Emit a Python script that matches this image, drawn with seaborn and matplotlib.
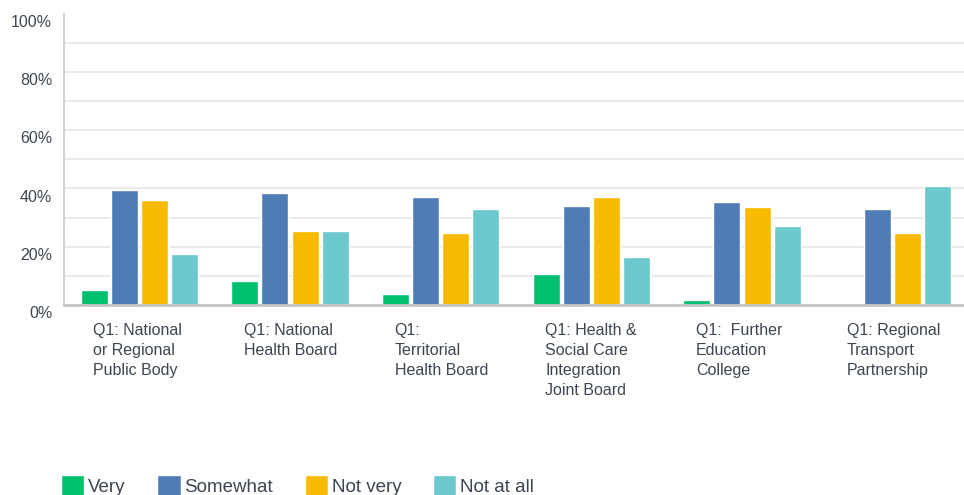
import matplotlib
matplotlib.use("Agg")
import matplotlib.pyplot as plt
import matplotlib.transforms as mtransforms
from matplotlib.ticker import FixedLocator, FuncFormatter
import numpy as np
import pandas as pd
import seaborn as sns

# Survey responses (% of respondents) per organisation type
categories = [
    "Q1: National\nor Regional\nPublic Body",
    "Q1: National\nHealth Board",
    "Q1:\nTerritorial\nHealth Board",
    "Q1: Health &\nSocial Care\nIntegration\nJoint Board",
    "Q1:  Further\nEducation\nCollege",
    "Q1: Regional\nTransport\nPartnership",
]
responses = ["Very", "Somewhat", "Not very", "Not at all"]
very = [5.0, 8.2, 3.7, 10.6, 1.6, 0.0]
somewhat = [39.5, 38.4, 37.1, 34.0, 35.3, 32.9]
not_very = [36.0, 25.5, 24.7, 37.1, 33.6, 24.7]
not_at_all = [17.5, 25.5, 32.9, 16.4, 27.1, 40.9]
colors = ["#00BF6F", "#507CB6", "#F7BA00", "#6BC8CD"]
y_ticks = [0, 20, 40, 60, 80, 100]

series = [very, somewhat, not_very, not_at_all]
df = pd.DataFrame(
    [(c, r, v) for r, vals in zip(responses, series) for c, v in zip(categories, vals)],
    columns=["category", "response", "value"],
)

sns.set_theme(style="white")
plt.rcParams["font.family"] = ["Liberation Sans", "DejaVu Sans"]
text_color = "#3d4650"

fig = plt.figure(figsize=(9.64, 4.95), dpi=100)
ax = fig.add_axes([64 / 964, (495 - 304.7) / 495, 904 / 964, 290.5 / 495])

sns.barplot(
    data=df, x="category", y="value", hue="response",
    hue_order=responses, order=categories, palette=colors,
    width=0.8, gap=0.1, saturation=1, ax=ax, legend=True,
)

ax.set_ylim(0, 100)
ax.set_xlim(-0.5, len(categories) - 0.5)
ax.set_xlabel("")
ax.set_ylabel("")

# gridlines every 10% (except the top), labels every 20%
ax.yaxis.set_major_locator(FixedLocator(y_ticks))
ax.yaxis.set_major_formatter(FuncFormatter(lambda v, p: f"{v:.0f}%"))
for g in range(10, 100, 10):
    ax.axhline(g, color="#e6e6e6", lw=1.2, zorder=0)
ax.set_axisbelow(True)

for side in ["top", "right"]:
    ax.spines[side].set_visible(False)
ax.spines["left"].set_color("#d4d4d4")
ax.spines["left"].set_linewidth(1.5)
ax.spines["bottom"].set_color("#c4c4c4")
ax.spines["bottom"].set_linewidth(2)

ax.tick_params(axis="both", length=0, colors=text_color, labelsize=11.5)
ax.tick_params(axis="y", pad=8.5)
ax.tick_params(axis="x", pad=13)

ydown = mtransforms.ScaledTranslation(0, -0.07, fig.dpi_scale_trans)
for lab in ax.get_yticklabels():
    lab.set_transform(lab.get_transform() + ydown)

xshift = mtransforms.ScaledTranslation(-0.46, 0, fig.dpi_scale_trans)
for lab in ax.get_xticklabels():
    lab.set_horizontalalignment("left")
    lab.set_multialignment("left")
    lab.set_linespacing(1.42)
    lab.set_transform(lab.get_transform() + xshift)

handles, labels = ax.get_legend_handles_labels()
ax.get_legend().remove()
fig.legend(
    handles, labels, loc="center left",
    bbox_to_anchor=(61 / 964, 9 / 495), ncol=4, frameon=False,
    fontsize=13.5, labelcolor=text_color,
    handlelength=1.25, handleheight=1.35, handletextpad=0.2,
    columnspacing=1.68, borderpad=0, borderaxespad=0,
)

fig.savefig("out.png", dpi=100)
